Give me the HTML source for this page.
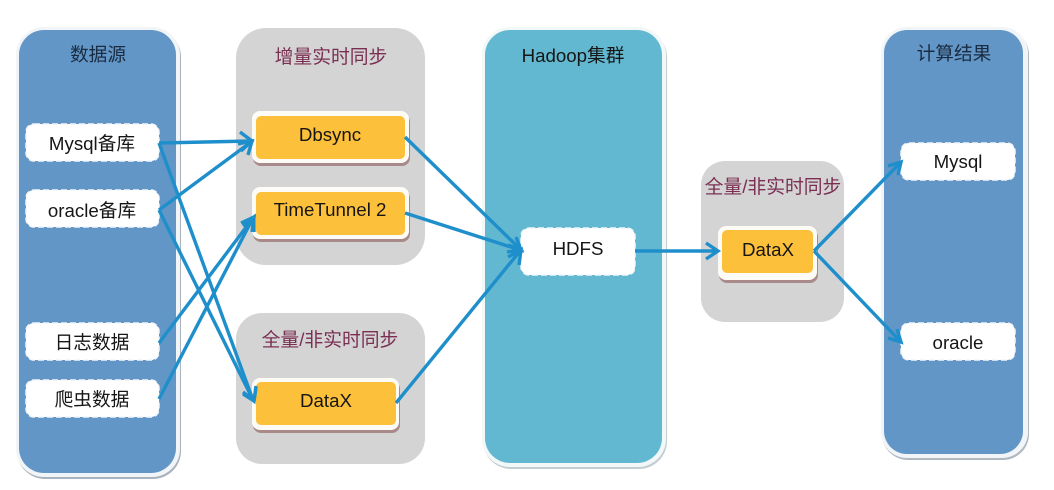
<!DOCTYPE html>
<html>
<head>
<meta charset="utf-8">
<style>
html,body{margin:0;padding:0;background:#fff;}
svg{display:block;}
text{font-family:"Liberation Sans","Noto Sans CJK SC",sans-serif;text-anchor:middle;}
.t{font-size:18.7px;fill:#161616;}
.h{font-size:18.7px;fill:#1a2c42;}
.g{font-size:18.8px;fill:#7a2f52;}
.w{fill:#fff;stroke:#f2f6fa;stroke-width:1.5;stroke-dasharray:6 3;}
.a{stroke:#1f8fcc;stroke-width:3.4;fill:none;stroke-linejoin:miter;}
</style>
</head>
<body>
<svg width="1054" height="490" viewBox="0 0 1054 490" xmlns="http://www.w3.org/2000/svg">
<rect width="1054" height="490" fill="#fff"/>

<!-- gray groups -->
<rect x="236" y="28" width="189" height="237" rx="30" fill="#d4d4d4"/>
<rect x="236" y="313" width="189" height="151" rx="26" fill="#d4d4d4"/>
<rect x="701" y="161" width="143" height="161" rx="24" fill="#d4d4d4"/>

<!-- tall panels -->
<rect x="17" y="29" width="164" height="450" rx="28" fill="#aab3bd"/>
<rect x="16" y="27" width="164" height="450" rx="28" fill="#f2f5f7"/>
<rect x="19" y="30" width="157" height="443" rx="25" fill="#6296c6"/>

<rect x="483" y="29" width="184" height="440" rx="28" fill="#c4ced2"/>
<rect x="482" y="27" width="184" height="440" rx="28" fill="#f2f7f8"/>
<rect x="485" y="30" width="177" height="433" rx="25" fill="#62b8d0"/>

<rect x="882" y="29" width="147" height="431" rx="26" fill="#b0b8c0"/>
<rect x="881" y="27" width="147" height="431" rx="26" fill="#f2f5f7"/>
<rect x="884" y="30" width="139" height="424" rx="23" fill="#6296c6"/>

<!-- titles -->
<text class="h" x="98" y="61">数据源</text>
<text class="g" x="331" y="63">增量实时同步</text>
<text class="g" x="330" y="346">全量/非实时同步</text>
<text class="t" x="573" y="62">Hadoop集群</text>
<text class="g" x="773" y="193">全量/非实时同步</text>
<text class="h" x="954" y="60">计算结果</text>

<!-- white dashed nodes -->
<rect class="w" x="26" y="124" width="133" height="37" rx="8"/>
<rect class="w" x="26" y="190" width="133" height="37" rx="8"/>
<rect class="w" x="26" y="323" width="133" height="37" rx="8"/>
<rect class="w" x="26" y="380" width="133" height="37" rx="8"/>
<rect class="w" x="521" y="228" width="114" height="47" rx="8"/>
<rect class="w" x="901" y="143" width="114" height="37" rx="8"/>
<rect class="w" x="901" y="323" width="114" height="37" rx="8"/>

<text class="t" x="92" y="150">Mysql备库</text>
<text class="t" x="92" y="217">oracle备库</text>
<text class="t" x="92" y="349">日志数据</text>
<text class="t" x="92" y="406">爬虫数据</text>
<text class="t" x="578" y="255">HDFS</text>
<text class="t" x="958" y="168">Mysql</text>
<text class="t" x="958" y="349">oracle</text>

<!-- orange nodes -->
<rect x="253" y="114" width="157" height="52" rx="8" fill="#a98a8a"/>
<rect x="252" y="111" width="157" height="52" rx="8" fill="#fdfbf6"/>
<rect x="256" y="116" width="149" height="43" rx="5" fill="#fdc03a"/>
<text class="t" x="330" y="141">Dbsync</text>

<rect x="253" y="190" width="157" height="52" rx="8" fill="#a98a8a"/>
<rect x="252" y="187" width="157" height="52" rx="8" fill="#fdfbf6"/>
<rect x="256" y="192" width="149" height="43" rx="5" fill="#fdc03a"/>
<text class="t" x="330" y="216">TimeTunnel 2</text>

<rect x="253" y="381" width="147" height="52" rx="8" fill="#a98a8a"/>
<rect x="252" y="378" width="147" height="52" rx="8" fill="#fdfbf6"/>
<rect x="256" y="382" width="140" height="43" rx="5" fill="#fdc03a"/>
<text class="t" x="326" y="407">DataX</text>

<rect x="719" y="229" width="99" height="54" rx="8" fill="#a98a8a"/>
<rect x="718" y="226" width="99" height="54" rx="8" fill="#fdfbf6"/>
<rect x="722" y="230" width="91" height="43" rx="5" fill="#fdc03a"/>
<text class="t" x="768" y="256">DataX</text>

<!-- connectors -->
<g class="a">
<path d="M159 143L251 141M240 132L252 141L241 151"/>
<path d="M159 210L251 142M238 144L252 141L248 155"/>
<path d="M159 143L253 400M243 394L254 401L256 387"/>
<path d="M159 210L253 400M243 392L254 401L256 386"/>
<path d="M159 343L253 218M241 223L254 217L252 232"/>
<path d="M159 399L253 218M243 226L254 217L254 232"/>
<path d="M405 137L520 249M508 245L521 250L516 237"/>
<path d="M405 213L520 250M507 252L521 250L511 240"/>
<path d="M396 403L520 251M508 257L521 250L519 265"/>
<path d="M635 251L717 251M706 243L718 251L706 259"/>
<path d="M814 251L900 163M888 166L901 162L898 175"/>
<path d="M814 251L900 341M888 338L901 342L897 329"/>
</g>
</svg>
</body>
</html>
